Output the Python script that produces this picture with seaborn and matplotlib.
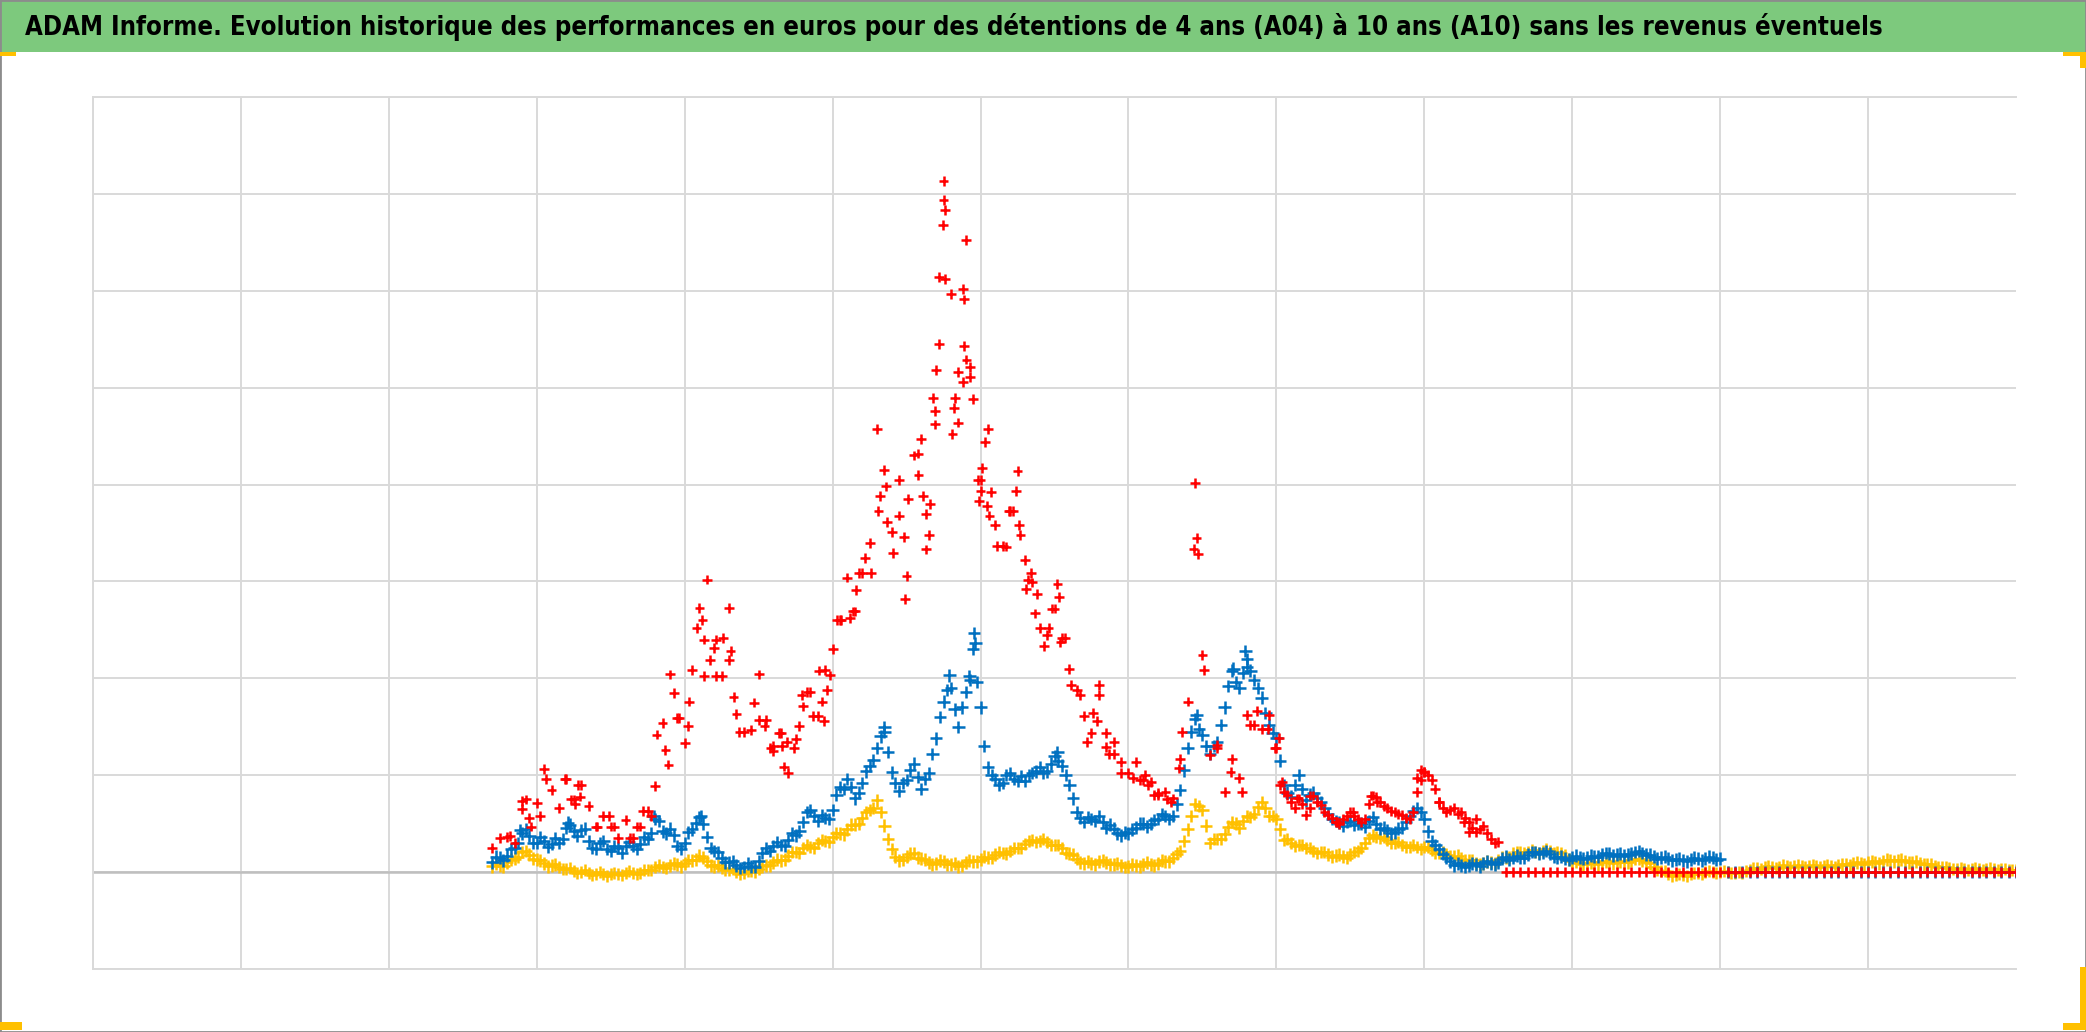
import numpy as np
import pandas as pd
import matplotlib
matplotlib.use("Agg")
import matplotlib.pyplot as plt
import seaborn as sns
from matplotlib.patches import Rectangle
from matplotlib import font_manager

# --- Données (unités de grille : 13 colonnes, -1 à 8) ---
titre = ("ADAM Informe. Evolution historique des performances en euros pour des "
         "détentions de 4 ans (A04) à 10 ans (A10) sans les revenus éventuels")

# pas régulier de 0.05 colonne, de 2.70 à 13.00
dates = np.arange(270, 1301, 5) / 100
# relevés intermédiaires (demi-pas), pour l'épaisseur des bandes
dates_bleu_bis = np.arange(2725, 10976, 50) / 1000
dates_jaune_bis = np.arange(2725, 12976, 50) / 1000
dates_rouge_bis = np.arange(8025, 9476, 50) / 1000

rouge = [
    .25, .35, .36, .30, .73, .56, .71, 1.06, .85, .66,
    .96, .75, .90, .68, .47, .58, .47, .35, .54, .35,
    .47, .63, .89, 1.54, 2.04, 1.59, 1.33, 2.09, 2.73, 3.02,
    2.31, 2.02, 2.73, 1.63, 1.45, 1.47, 2.04, 1.57, 1.30, 1.44,
    1.02, 1.37, 1.71, 1.86, 1.61, 2.09, 2.30, 2.60, 3.04, 2.69,
    3.09, 3.40, 4.57, 4.15, 3.51, 4.05, 3.06, 4.30, 4.47, 3.48,
    5.18, 7.13, 5.97, 5.16, 6.52, 4.88, 4.05, 4.57, 3.58, 3.37,
    3.73, 4.14, 3.22, 2.99, 2.52, 2.45, 2.72, 2.42, 2.10, 1.88,
    1.61, 1.44, 1.93, 1.29, 1.34, 1.14, 1.02, 1.14, .95, .93,
    .80, .83, .76, 1.17, 1.76, 4.02, 2.24, 1.21, 1.28, .83,
    1.17, .97, 1.62, 1.52, 1.48, 1.62, 1.28, .83, .72, .76,
    .59, .79, .69, .59, .52, .55, .62, .55, .55, .79,
    .72, .66, .62, .59, .55, .83, 1.03, .95, .72, .62,
    .66, .62, .52, .41, .48, .34, .31, 0, 0, 0,
    0, 0, 0, 0, 0, 0, 0, 0, 0, 0,
    0, 0, 0, 0, 0, 0, 0, 0, 0, 0,
    0, 0, 0, 0, 0, 0, 0, 0, 0, 0,
    0, 0, 0, 0, 0, 0, 0, 0, 0, 0,
    0, 0, 0, 0, 0, 0, 0, 0, 0, 0,
    0, 0, 0, 0, 0, 0, 0, 0, 0, 0,
    0, 0, 0, 0, 0, 0, 0,
]
rouge_bis = [
    .90, .80, .66, .70, .66, .72, .62, .56, .50, .58,
    .58, .52, .70, .78, .68, .63, .60, .56, .62, .95,
    1.00, .86, .66, .64, .60, .56, .46, .44, .40, .30,
]

bleu = [
    .10, .15, .17, .25, .40, .37, .30, .32, .29, .30,
    .46, .42, .43, .32, .24, .32, .22, .25, .27, .27,
    .29, .34, .55, .42, .45, .27, .30, .44, .57, .36,
    .22, .15, .10, .07, .05, .06, .11, .25, .27, .28,
    .33, .38, .52, .64, .53, .56, .64, .88, .96, .76,
    .92, 1.10, 1.28, 1.45, 1.03, .84, .95, 1.12, .86, 1.02,
    1.38, 1.76, 1.90, 1.50, 1.86, 2.30, 1.70, 1.08, .96, .92,
    1.02, .94, .94, 1.02, 1.08, 1.04, 1.20, 1.10, .90, .62,
    .52, .55, .58, .46, .45, .38, .40, .46, .50, .50,
    .55, .58, .58, .85, 1.28, 1.58, 1.42, 1.22, 1.34, 1.70,
    2.08, 1.90, 2.20, 1.98, 1.80, 1.52, 1.38, .90, .78, 1.00,
    .74, .82, .72, .60, .53, .48, .53, .50, .47, .57,
    .45, .43, .41, .46, .58, .66, .55, .32, .24, .15,
    .07, .07, .07, .08, .09, .09, .10, .16, .15, .15,
    .18, .21, .20, .19, .15, .14, .15, .15, .15, .16,
    .18, .19, .18, .17, .19, .22, .18, .16, .15, .14,
    .13, .12, .13, .14, .14, .15, .14, 0, 0, 0,
    0, 0, 0, 0, 0, 0, 0, 0, 0, 0,
    0, 0, 0, 0, 0, 0, 0, 0, 0, 0,
    0, 0, 0, 0, 0, 0, 0, 0, 0, 0,
    0, 0, 0, 0, 0, 0, 0,
]
bleu_bis = [
    .16, .12, .24, .30, .44, .30, .36, .26, .35, .34,
    .49, .37, .45, .25, .30, .24, .27, .20, .31, .24,
    .36, .40, .53, .40, .38, .24, .41, .51, .50, .25,
    .21, .10, .11, .04, .09, .05, .20, .22, .31, .27,
    .40, .42, .62, .58, .59, .55, .80, .86, .88, .82,
    1.04, 1.16, 1.40, 1.24, .92, .92, 1.05, .98, .96, 1.22,
    1.60, 1.88, 1.68, 1.70, 2.02, 1.96, 1.30, 1.00, .90, 1.00,
    .96, .99, 1.00, 1.04, 1.02, 1.12, 1.15, 1.00, .76, .56,
    .57, .53, .52, .49, .40, .41, .44, .50, .47, .54,
    .60, .55, .70, 1.05, 1.45, 1.48, 1.30, 1.30, 1.52, 1.92,
    1.96, 2.06, 2.08, 1.90, 1.64, 1.44, 1.15, .82, .90, .86,
    .80, .76, .66, .55, .51, .52, .49, .50, .53, .50,
    .46, .40, .45, .52, .63, .62, .42, .28, .19, .11,
    .09, .05, .09, .06, .11, .08, .14, .13, .17, .15,
    .21, .19, .22, .16, .16, .13, .17, .14, .17, .16,
    .20, .17, .19, .18, .21, .20, .18, .14, .16, .12,
    .14, .11, .15, .12, .16, .13,
]

jaune = [
    .06, .07, .10, .14, .21, .18, .13, .09, .07, .05,
    .03, .01, .00, -.01, -.02, -.02, -.02, -.02, -.01, -.01,
    -.01, .02, .05, .05, .07, .08, .09, .12, .17, .11,
    .06, .04, .02, .00, -.01, .01, .03, .07, .10, .12,
    .17, .21, .25, .26, .30, .32, .36, .40, .44, .49,
    .56, .64, .74, .48, .24, .12, .16, .20, .14, .10,
    .09, .11, .08, .06, .10, .11, .13, .15, .18, .20,
    .22, .25, .29, .33, .32, .31, .28, .25, .19, .14,
    .09, .09, .11, .10, .08, .07, .06, .07, .08, .08,
    .09, .11, .15, .22, .44, .70, .64, .30, .34, .39,
    .52, .46, .58, .60, .72, .58, .55, .33, .30, .28,
    .25, .22, .21, .18, .17, .16, .18, .22, .30, .38,
    .35, .33, .30, .28, .26, .26, .26, .23, .20, .18,
    .16, .14, .12, .09, .09, .10, .12, .15, .19, .21,
    .21, .21, .22, .22, .21, .17, .11, .09, .09, .09,
    .10, .10, .10, .10, .12, .14, .10, .05, .01, -.02,
    -.03, -.03, -.02, -.01, .00, .00, .00, .00, -.01, -.01,
    .02, .04, .05, .05, .05, .06, .06, .06, .06, .06,
    .06, .06, .07, .08, .09, .09, .10, .10, .11, .12,
    .12, .11, .10, .09, .08, .06, .05, .04, .03, .03,
    .03, .03, .03, .03, .03, .02, .02,
]
jaune_bis = [
    .09, .06, .13, .16, .22, .14, .12, .06, .08, .03,
    .04, -.01, .02, -.03, .00, -.04, -.01, -.03, .01, -.02,
    .02, .02, .07, .04, .09, .06, .12, .13, .15, .07,
    .07, .02, .03, -.02, .01, .00, .06, .07, .13, .13,
    .21, .20, .28, .25, .33, .31, .40, .39, .49, .50,
    .62, .66, .62, .34, .16, .13, .19, .15, .13, .08,
    .12, .08, .09, .07, .12, .11, .16, .15, .21, .19,
    .25, .25, .32, .31, .34, .28, .28, .20, .18, .10,
    .11, .08, .12, .08, .09, .05, .08, .06, .10, .07,
    .12, .11, .19, .32, .58, .68, .48, .34, .34, .47,
    .50, .53, .57, .67, .66, .58, .44, .34, .27, .28,
    .25, .20, .21, .16, .18, .15, .21, .25, .35, .36,
    .36, .30, .31, .26, .28, .24, .26, .20, .21, .16,
    .17, .12, .12, .08, .11, .09, .15, .15, .21, .19,
    .23, .20, .24, .20, .20, .13, .11, .08, .10, .08,
    .11, .09, .11, .10, .14, .12, .09, .02, .01, -.04,
    -.02, -.04, -.01, -.02, .01, -.01, .01, -.01, .00, .01,
    .04, .03, .06, .04, .07, .05, .07, .05, .07, .05,
    .07, .05, .08, .07, .10, .08, .11, .09, .13, .11,
    .13, .10, .11, .08, .08, .05, .05, .03, .04, .02,
    .04, .02, .04, .02, .03, .02,
]

# points rouges supplémentaires (nuage dispersé autour des pics)
rouge_extra_x = [
    2.82, 2.90, 2.93, 2.96, 3.02, 3.06, 3.19, 3.23, 3.26, 3.28, 3.29, 3.41, 3.49, 3.52,
    3.63, 3.68, 3.72, 3.77, 3.81, 3.87, 3.89, 3.93, 3.96, 4.02, 4.03, 4.08, 4.12, 4.13,
    4.13, 4.17, 4.21, 4.21, 4.26, 4.30, 4.31, 4.33, 4.37, 4.47, 4.50, 4.54, 4.58, 4.60,
    4.64, 4.66, 4.67, 4.69, 4.74, 4.77, 4.79, 4.83, 4.87, 4.91, 4.93, 4.94, 4.96, 4.98,
    5.03, 5.06, 5.12, 5.14, 5.16, 5.18, 5.22, 5.26, 5.31, 5.32, 5.36, 5.37, 5.41, 5.45,
    5.48, 5.49, 5.51, 5.58, 5.58, 5.61, 5.63, 5.63, 5.66, 5.68, 5.69, 5.69, 5.72, 5.72,
    5.745, 5.75, 5.76, 5.76, 5.81, 5.82, 5.83, 5.85, 5.88, 5.88, 5.89, 5.89, 5.905, 5.93,
    5.93, 5.98, 5.99, 6.00, 6.01, 6.03, 6.045, 6.06, 6.07, 6.11, 6.17, 6.19, 6.22, 6.24,
    6.26, 6.27, 6.305, 6.32, 6.34, 6.37, 6.38, 6.43, 6.46, 6.48, 6.52, 6.53, 6.54, 6.57,
    6.61, 6.67, 6.72, 6.76, 6.79, 6.80, 6.85, 6.87, 6.90, 6.95, 7.03, 7.08, 7.11, 7.13,
    7.17, 7.20, 7.26, 7.29, 7.34, 7.36, 7.44, 7.46, 7.47, 7.51, 7.60, 7.69, 7.77, 7.82,
    7.87, 7.94, 7.99, 8.02, 8.04, 8.14, 8.23, 8.41, 8.52, 8.64, 8.68, 8.95, 8.975, 9.00,
    9.10, 9.27, 9.30, 9.35,
]
rouge_extra_y = [
    .37, .65, .75, .47, .58, .96, .96, .75, .70, .90, .78, .47, .58, .47,
    .35, .47, .63, .58, 1.42, 1.26, 1.11, 1.85, 1.59, 1.51, 1.76, 2.52, 2.60, 2.40,
    2.02, 2.19, 2.40, 2.02, 2.42, 2.19, 2.28, 1.81, 1.45, 1.75, 1.57, 1.51, 1.28, 1.25,
    1.44, 1.30, 1.09, 1.34, 1.28, 1.51, 1.83, 1.86, 1.61, 2.08, 1.76, 1.56, 1.88, 2.03,
    2.60, 2.60, 2.62, 2.69, 2.91, 3.09, 3.24, 3.09, 3.73, 3.88, 3.98, 3.61, 3.29, 3.68,
    3.46, 2.82, 3.85, 4.32, 4.10, 3.88, 3.70, 3.33, 3.80, 4.89, 4.76, 4.62, 5.45, 6.14,
    6.68, 6.94, 6.83, 6.12, 4.52, 4.79, 4.89, 4.64, 5.06, 6.02, 5.43, 5.91, 5.29, 5.11,
    5.21, 4.05, 3.83, 3.93, 4.17, 4.44, 3.78, 3.68, 3.92, 3.37, 3.36, 3.73, 3.73, 3.93,
    3.58, 3.48, 2.92, 3.02, 3.09, 2.67, 2.87, 2.33, 2.52, 2.72, 2.97, 2.84, 2.37, 2.42,
    1.93, 1.83, 1.34, 1.64, 1.56, 1.83, 1.44, 1.22, 1.22, 1.02, .97, .95, 1.00, .90,
    .80, .82, .75, .72, 1.07, 1.45, 3.34, 3.45, 3.28, 2.09, 1.31, 1.03, .83, 1.52,
    1.66, 1.48, 1.28, 1.38, .93, .76, .79, .52, .62, .79, .72, .97, 1.05, 1.03,
    .72, .52, .41, .55,
]

# quelques pointes bleues isolées
bleu_extra_x = [2.89, 3.21, 3.79, 4.11, 5.35, 5.79, 5.955, 5.965, 5.93, 6.52, 7.46, 7.71, 7.79, 7.80]
bleu_extra_y = [.43, .51, .58, .58, 1.50, 2.03, 2.47, 2.36, 1.98, 1.24, 1.62, 2.10, 2.28, 2.12]

couleurs = {"jaune": "#FFC000", "bleu": "#0070C0", "rouge": "#FF0000"}
tailles = {"jaune": 80, "bleu": 80, "rouge": 50}

W, H = 2086, 1032

# ordre de tracé : jaune, puis bleu, puis rouge par-dessus
frames = [
    pd.DataFrame({"x": dates, "y": jaune, "serie": "jaune"}),
    pd.DataFrame({"x": dates_jaune_bis, "y": jaune_bis, "serie": "jaune"}),
    pd.DataFrame({"x": dates, "y": bleu, "serie": "bleu"}),
    pd.DataFrame({"x": dates_bleu_bis, "y": bleu_bis, "serie": "bleu"}),
    pd.DataFrame({"x": bleu_extra_x, "y": bleu_extra_y, "serie": "bleu"}),
    pd.DataFrame({"x": dates, "y": rouge, "serie": "rouge"}),
    pd.DataFrame({"x": dates_rouge_bis, "y": rouge_bis, "serie": "rouge"}),
    pd.DataFrame({"x": rouge_extra_x, "y": rouge_extra_y, "serie": "rouge"}),
]
df = pd.concat(frames, ignore_index=True)

sns.set_theme(style="white")
fig = plt.figure(figsize=(W / 100, H / 100), dpi=100)
fig.patch.set_facecolor("white")

# zone du graphique
ax = fig.add_axes([93 / W, 1 - 969 / H, (2016 - 93) / W, (969 - 97) / H])
sns.scatterplot(data=df, x="x", y="y", hue="serie", palette=couleurs,
                size="serie", sizes=tailles, marker="+",
                linewidth=1.8, legend=False, ax=ax, zorder=3)

ax.set_xlim(0, 13)
ax.set_ylim(-1, 8)
ax.set_xticks(range(0, 13))
ax.set_yticks(range(-1, 9))
ax.tick_params(length=0, labelleft=False, labelbottom=False)
ax.set_xlabel("")
ax.set_ylabel("")
ax.grid(True, color="#D9D9D9", linewidth=1.4)
ax.set_axisbelow(True)
for side in ["left", "top", "bottom"]:
    ax.spines[side].set_color("#D9D9D9")
    ax.spines[side].set_linewidth(1.4)
ax.spines["right"].set_visible(False)
ax.axhline(0, color="#BFBFBF", linewidth=1.8, zorder=2)

# bandeau de titre vert
fig.patches.append(Rectangle((0, 1 - 52 / H), 1, 52 / H, transform=fig.transFigure,
                             facecolor="#7DC97D", edgecolor="none", zorder=0))

noms = {f.name for f in font_manager.fontManager.ttflist}
if "Liberation Sans Narrow" in noms:
    police, etirement = "Liberation Sans Narrow", "normal"
else:
    police, etirement = "DejaVu Sans", "condensed"
t = fig.text(25 / W, 1 - 27 / H, titre, fontsize=17, fontweight="bold",
             family=police, fontstretch=etirement, color="black",
             ha="left", va="center")
fig.canvas.draw()
largeur = t.get_window_extent().width
t.set_fontsize(17 * 1853 / largeur)

# cadre et poignées orange
fig.patches.append(Rectangle((0, 0), 1, 1, transform=fig.transFigure, fill=False,
                             edgecolor="#8C8C8C", linewidth=2))


def poignee(x0, y0, x1, y1):
    fig.patches.append(Rectangle((x0 / W, 1 - y1 / H), (x1 - x0) / W, (y1 - y0) / H,
                                 transform=fig.transFigure, facecolor="#FFC000",
                                 edgecolor="none"))


poignee(0, 52, 16, 56)
poignee(2063, 52, 2086, 56)
poignee(2080, 52, 2086, 68)
poignee(0, 1022, 22, 1030)
poignee(2080, 967, 2086, 1030)
poignee(2063, 1023, 2086, 1030)

fig.savefig("out.png", dpi=100)
